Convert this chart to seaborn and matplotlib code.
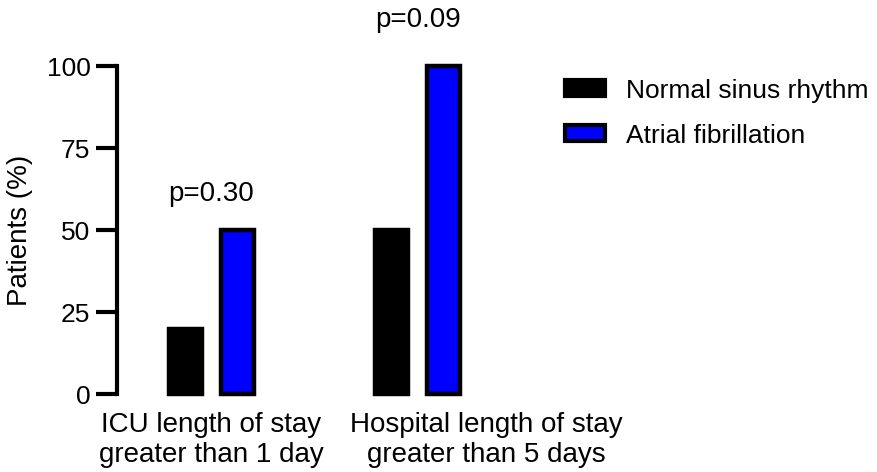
import pandas as pd
import matplotlib
matplotlib.use('Agg')
import matplotlib.pyplot as plt
import matplotlib.transforms as mtransforms
import seaborn as sns

categories = ['ICU length of stay\ngreater than 1 day', 'Hospital length of stay\ngreater than 5 days']
groups = ['Normal sinus rhythm', 'Atrial fibrillation']
nsr_values = [20, 50]
af_values = [50, 100]
p_labels = ['p=0.30', 'p=0.09']
p_heights = [61, 114]
yticks = [0, 25, 50, 75, 100]

df = pd.DataFrame({
    'category': categories * 2,
    'group': [groups[0]] * 2 + [groups[1]] * 2,
    'value': nsr_values + af_values,
})

sns.set_style('white')
plt.rcParams['font.family'] = ['Liberation Sans', 'DejaVu Sans']
plt.rcParams['text.color'] = 'black'
plt.rcParams['axes.labelcolor'] = 'black'
plt.rcParams['xtick.color'] = 'black'
plt.rcParams['ytick.color'] = 'black'

fig = plt.figure(figsize=(8.78, 4.72), dpi=100)
ax = fig.add_axes([0.133, 0.165, 0.46, 0.695])

sns.barplot(data=df, x='category', y='value', hue='group', hue_order=groups,
            palette={groups[0]: 'black', groups[1]: '#0000ff'}, saturation=1,
            width=0.5, gap=0.36, edgecolor='black', linewidth=3.2,
            errorbar=None, ax=ax, legend=False)

for p in ax.patches:
    p.set_clip_on(False)

ax.set_xlim(-0.46, 1.5)
ax.set_ylim(0, 100)
ax.set_yticks(yticks)
ax.set_ylabel('Patients (%)', fontsize=20, labelpad=10)
ax.set_xlabel('')
ax.tick_params(axis='y', length=15, width=3, labelsize=19, pad=4, left=True, color='black')
ax.tick_params(axis='x', length=0, labelsize=20, pad=13)

# second category label sits to the right of its bars, as in the original
xlabels = ax.get_xticklabels()
shift = mtransforms.ScaledTranslation(0.69, 0, fig.dpi_scale_trans)
xlabels[1].set_transform(xlabels[1].get_transform() + shift)

sns.despine(ax=ax, bottom=True)
ax.spines['left'].set_linewidth(3)
ax.spines['left'].set_color('black')

for i, (txt, h) in enumerate(zip(p_labels, p_heights)):
    ax.text(i, h, txt, ha='center', va='center', fontsize=20, clip_on=False)

handles = [plt.Rectangle((0, 0), 1, 1, facecolor='black', edgecolor='black', linewidth=3),
           plt.Rectangle((0, 0), 1, 1, facecolor='#0000ff', edgecolor='black', linewidth=3)]
fig.legend(handles, groups, loc='upper left', bbox_to_anchor=(0.617, 0.884),
           frameon=False, fontsize=19, handlelength=1.5, handleheight=0.55,
           handletextpad=0.8, labelspacing=0.8)

fig.savefig('out.png', dpi=100)
